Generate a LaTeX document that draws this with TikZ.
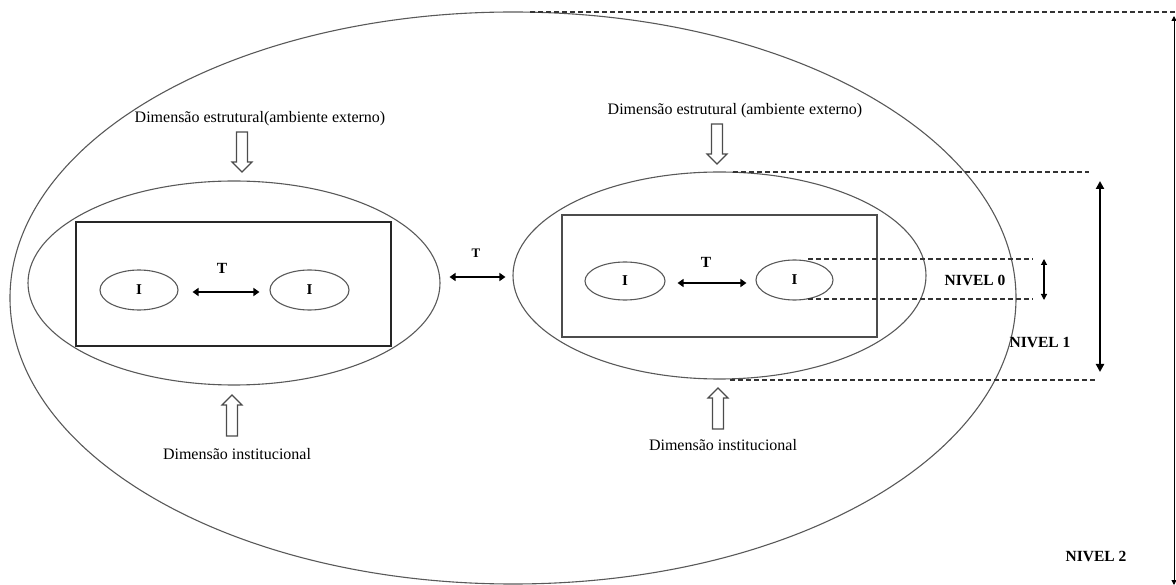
\documentclass[tikz,border=0pt]{standalone}
\usepackage{fontspec}
\setmainfont{Liberation Serif}
\usetikzlibrary{shapes.geometric,arrows.meta}
\begin{document}
\begin{tikzpicture}[x=1pt,y=-1pt,
  ell/.style={draw=black!65, line width=1.1pt, ellipse, inner sep=0pt},
  iell/.style={ell, minimum height=40pt, font=\fontsize{15}{16}\selectfont\bfseries},
  boxl/.style={draw=black!85, line width=1.6pt, inner sep=0pt},
  boxr/.style={draw=black!70, line width=2pt, inner sep=0pt},
  lbl/.style={font=\fontsize{16}{18}\selectfont, inner sep=0pt},
  blbl/.style={font=\fontsize{15.5}{16}\selectfont\bfseries, inner sep=0pt},
  dashline/.style={draw=black!80, line width=1.2pt, dash pattern=on 5pt off 3pt},
  tarrow/.style={line width=2pt, {Triangle[length=6pt,width=8pt]}-{Triangle[length=6pt,width=8pt]}},
  lvlarrow/.style={line width=2.2pt, {Triangle[length=8pt,width=8pt]}-{Triangle[length=8pt,width=8pt]}},
  thinarrow/.style={line width=1.2pt, {Triangle[length=6pt,width=6pt]}-{Triangle[length=6pt,width=6pt]}},
  blockdown/.pic={\draw[black!70, line width=1.1pt, fill=white] (-5.5,-40) -- (5.5,-40) -- (5.5,-10) -- (10,-10) -- (0,0) -- (-10,-10) -- (-5.5,-10) -- cycle;},
  blockup/.pic={\draw[black!70, line width=1.1pt, fill=white] (-5.5,41) -- (5.5,41) -- (5.5,10) -- (10,10) -- (0,0) -- (-10,10) -- (-5.5,10) -- cycle;},
]
\useasboundingbox (0,0) rectangle (1176,585);

% outer ellipse (level 2)
\node[ell, minimum width=1006pt, minimum height=572pt] (big) at (513,298) {};

% inner ellipses (level 1)
\node[ell, minimum width=412pt, minimum height=204pt] (e1) at (234,283) {};
\node[ell, minimum width=413pt, minimum height=207pt] (e2) at (719.5,275.5) {};

% rectangles
\node[boxl, minimum width=315pt, minimum height=124pt] (r1) at (233.5,284) {};
\node[boxr, minimum width=315pt, minimum height=122pt] (r2) at (719.5,276) {};

% I ellipses
\node[iell, minimum width=78pt] (i1) at (139,290) {I};
\node[iell, minimum width=79pt] (i2) at (309.5,290) {I};
\node[iell, minimum width=80pt, minimum height=38pt] (i3) at (625,281) {I};
\node[iell, minimum width=77pt] (i4) at (794.5,280) {I};

% T arrows
\node[blbl] (t1) at (222,268) {T};
\draw[tarrow] ([xshift=14pt,yshift=-2pt]i1.east) -- ([xshift=-10pt,yshift=-2pt]i2.west);
\node[blbl] (t2) at (706,262) {T};
\draw[tarrow] ([xshift=12pt,yshift=-2pt]i3.east) -- ([xshift=-9pt,yshift=-3pt]i4.west);
\node[blbl, font=\fontsize{13}{14}\selectfont\bfseries] (tm) at (476,253) {T};
\draw[tarrow] ([xshift=9pt,yshift=6pt]e1.east) -- ([xshift=-7pt,yshift=-1.5pt]e2.west);

% dimension labels and block arrows
\node[lbl] (d1) at (260,119) {Dimensão estrutural(ambiente externo)};
\pic at (242,172) {blockdown};
\node[lbl] (d2) at (735,111) {Dimensão estrutural (ambiente externo)};
\pic at (717,164) {blockdown};
\node[lbl] (d3) at (237,454) {Dimensão institucional};
\pic at (232,395) {blockup};
\node[lbl] (d4) at (723,445) {Dimensão institucional};
\pic at (718,388) {blockup};

% level markers
\coordinate (n0a) at (808,259);
\coordinate (n0b) at (1033,259);
\coordinate (n0c) at (808,299);
\coordinate (n0d) at (1033,299);
\draw[dashline] (n0a) -- (n0b);
\draw[dashline] (n0c) -- (n0d);
\coordinate (n0t) at (1044,259);
\coordinate (n0u) at (1044,300);
\draw[thinarrow] (n0t) -- (n0u);
\node[blbl] (nv0) at (975,280) {NIVEL 0};

\coordinate (n1a) at (733,172);
\coordinate (n1b) at (1089,172);
\coordinate (n1c) at (730,380);
\coordinate (n1d) at (1096,380);
\draw[dashline] (n1a) -- (n1b);
\draw[dashline] (n1c) -- (n1d);
\coordinate (n1t) at (1100,181);
\coordinate (n1u) at (1100,372);
\draw[lvlarrow] (n1t) -- (n1u);
\node[blbl] (nv1) at (1040,343) {NIVEL 1};

\coordinate (n2a) at (530,12);
\coordinate (n2b) at (1176,12);
\draw[dashline] (n2a) -- (n2b);
\coordinate (n2t) at (1174,16);
\coordinate (n2u) at (1174,585);
\draw[line width=1pt, {Triangle[length=5pt,width=5pt]}-{Triangle[length=5pt,width=5pt]}] (n2t) -- (n2u);
\node[blbl] (nv2) at (1096,556) {NIVEL 2};
\end{tikzpicture}
\end{document}
